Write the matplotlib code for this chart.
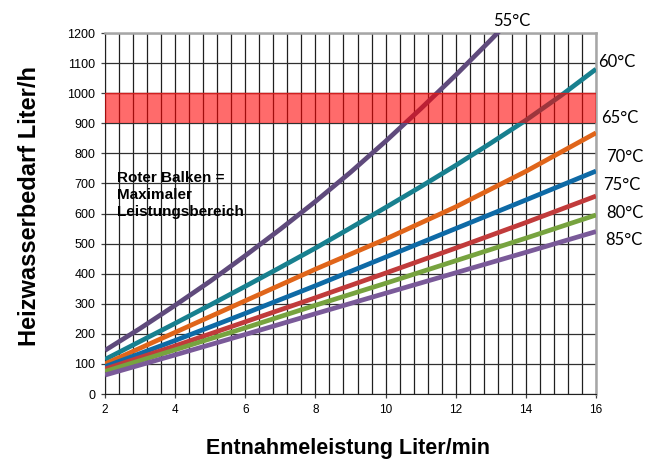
import numpy as np
import matplotlib.pyplot as plt
from matplotlib.ticker import MultipleLocator

# Werte (Entnahmeleistung in Liter/min)
entnahme_fein = [2, 3, 4, 5, 6, 7, 8, 9, 10, 11, 12, 13, 14, 15, 16]
entnahme = [2, 4, 6, 8, 10, 12, 14, 16]
t55 = [145, 218, 295, 375, 460, 548, 640, 737, 840, 948, 1060, 1177, 1298, 1420, 1545]
t60 = [115, 175, 235, 296, 358, 421, 485, 552, 620, 689, 760, 834, 910, 992, 1080]
t65 = [100, 205, 310, 415, 515, 622, 740, 868]
t70 = [91, 178, 268, 360, 455, 550, 645, 741]
t75 = [83, 160, 240, 320, 402, 485, 570, 658]
t80 = [75, 147, 220, 295, 368, 443, 518, 595]
t85 = [63, 130, 198, 267, 335, 403, 471, 540]
bezeichnungen = ['55°C', '60°C', '65°C', '70°C', '75°C', '80°C', '85°C']
farben = ['#5f4a7c', '#18808f', '#e0651a', '#0e6aa6', '#c13b3b', '#77a33f', '#7a5a99']
balken_unten = 900
balken_oben = 1000

fig = plt.figure(figsize=(6.54, 4.61), dpi=100)
ax = fig.add_axes([0.1606, 0.1453, 0.7507, 0.7831])

serien = [(entnahme_fein, t55), (entnahme_fein, t60), (entnahme, t65), (entnahme, t70),
          (entnahme, t75), (entnahme, t80), (entnahme, t85)]
for (xs, werte), farbe in zip(serien, farben):
    ax.plot(xs, werte, color=farbe, lw=3.4, solid_capstyle='butt',
            solid_joinstyle='round', zorder=3)

# Roter Balken (halbtransparent über den Linien)
ax.axhspan(balken_unten, balken_oben, color='#ff0000', alpha=0.58, lw=0, zorder=4)
ax.axhline(balken_oben, color='#d02020', lw=1.0, zorder=4)

ax.set_xlim(2, 16)
ax.set_ylim(0, 1200)
ax.xaxis.set_major_locator(MultipleLocator(2))
ax.xaxis.set_minor_locator(MultipleLocator(0.4))
ax.yaxis.set_major_locator(MultipleLocator(100))
ax.grid(True, which='minor', axis='x', color='#202020', lw=0.9, zorder=1)
ax.grid(True, which='major', axis='x', color='#202020', lw=0.9, zorder=1)
ax.grid(True, which='major', axis='y', color='#303030', lw=0.9, zorder=1)
ax.set_axisbelow(True)
ax.tick_params(which='minor', length=0)
ax.tick_params(which='major', length=3, width=0.9, color='#404040', pad=4)
ax.tick_params(axis='x', labelsize=8.5)
ax.tick_params(axis='y', labelsize=9)
for lab in ax.get_xticklabels() + ax.get_yticklabels():
    lab.set_family('Liberation Sans')

ax.spines['left'].set_color('#202020')
ax.spines['bottom'].set_color('#202020')
ax.spines['top'].set_color('#a6a6a6')
ax.spines['right'].set_color('#a6a6a6')
ax.spines['top'].set_linewidth(1.8)
ax.spines['right'].set_linewidth(1.8)

ax.set_xlabel('Entnahmeleistung Liter/min', fontsize=15.5, fontweight='bold',
              family='Liberation Sans')
ax.set_ylabel('Heizwasserbedarf Liter/h', fontsize=17, fontweight='bold',
              family='Liberation Sans')
ax.xaxis.set_label_coords(0.495, -0.122)
ax.yaxis.set_label_coords(-0.13, 0.52)

ax.text(2.35, 740, 'Roter Balken =\nMaximaler\nLeistungsbereich', fontsize=11,
        fontweight='bold', family='Liberation Sans', va='top', ha='left',
        linespacing=1.25, zorder=5)

# Temperaturbeschriftungen
label_pos = [(13.6, 1240, 'center'), (16.05, 1103, 'left'), (16.15, 917, 'left'),
             (16.3, 787, 'left'), (16.2, 694, 'left'), (16.3, 601, 'left'),
             (16.25, 512, 'left')]
for (lx, ly, ha), text in zip(label_pos, bezeichnungen):
    ax.text(lx, ly, text, fontsize=12, family='Lato', ha=ha, va='center',
            clip_on=False)

fig.savefig('out.png', dpi=100)
